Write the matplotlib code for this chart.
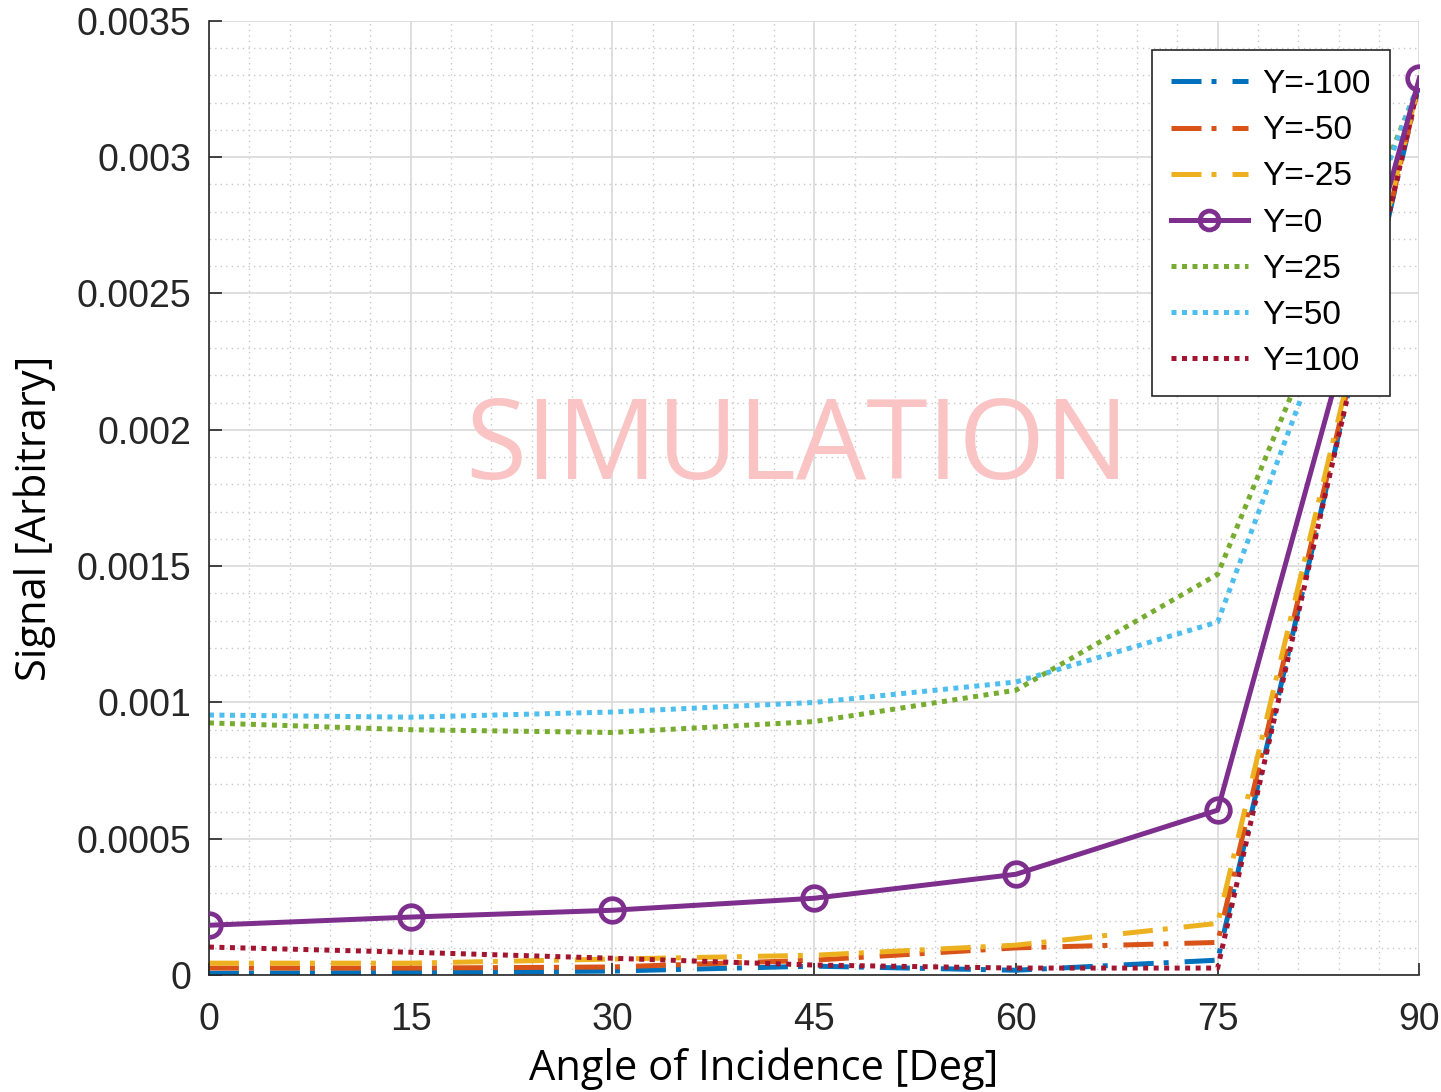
import matplotlib
matplotlib.use("Agg")
import matplotlib.pyplot as plt
from matplotlib.ticker import MultipleLocator

angles = [0, 15, 30, 45, 60, 75, 90]
labels = ["Y=-100", "Y=-50", "Y=-25", "Y=0", "Y=25", "Y=50", "Y=100"]
y_m100 = [0.000007, 0.000010, 0.000015, 0.000033, 0.000018, 0.000055, 0.00327]
y_m50 = [0.000026, 0.000026, 0.000030, 0.000055, 0.000100, 0.000120, 0.00327]
y_m25 = [0.000044, 0.000044, 0.000059, 0.000073, 0.000110, 0.000190, 0.00328]
y_0 = [0.000183, 0.000213, 0.000238, 0.000282, 0.000370, 0.000605, 0.00329]
y_25 = [0.000925, 0.000900, 0.000890, 0.000930, 0.001045, 0.001470, 0.00327]
y_50 = [0.000954, 0.000946, 0.000965, 0.001000, 0.001075, 0.001295, 0.00328]
y_100 = [0.000103, 0.000084, 0.000062, 0.000037, 0.000026, 0.000026, 0.00328]

colors = ["#0072BD", "#D95319", "#EDB120", "#7E2F8E", "#77AC30", "#4DBEEE", "#A2142F"]

fig = plt.figure(figsize=(14.41, 10.92), dpi=100)
ax = fig.add_axes([0.145, 0.107, 0.840, 0.874])

lw = 3.6
dashdot = (0, (6.0, 2.0, 1, 3.2))
dotted = (0, (1, 1.1))
series = [y_m100, y_m50, y_m25, y_0, y_25, y_50, y_100]
for i, (ys, lab) in enumerate(zip(series, labels)):
    if i < 3:
        ax.plot(angles, ys, color=colors[i], lw=lw, linestyle=dashdot, label=lab)
    elif i == 3:
        ax.plot(angles, ys, color=colors[i], lw=lw, linestyle="-", marker="o",
                markersize=17, markerfacecolor="none", markeredgewidth=3.4, label=lab, zorder=5)
    else:
        ax.plot(angles, ys, color=colors[i], lw=lw, linestyle=dotted, label=lab)

ax.set_xlim(0, 90)
ax.set_ylim(0, 0.0035)
ax.xaxis.set_major_locator(MultipleLocator(15))
ax.xaxis.set_minor_locator(MultipleLocator(3))
ax.yaxis.set_minor_locator(MultipleLocator(0.0001))
ax.set_yticks([0, 0.0005, 0.001, 0.0015, 0.002, 0.0025, 0.003, 0.0035])
ax.set_yticklabels(["0", "0.0005", "0.001", "0.0015", "0.002", "0.0025", "0.003", "0.0035"])
ax.grid(which="major", color="#d9d9d9", lw=1.2, linestyle="-")
ax.grid(which="minor", color="#c8c8c8", lw=1.0, linestyle=(0, (1, 3)))
ax.set_axisbelow(True)
ax.spines["top"].set_visible(False)
ax.spines["right"].set_visible(False)
for s in ["left", "bottom"]:
    ax.spines[s].set_color("#262626")
    ax.spines[s].set_linewidth(1.2)
ax.tick_params(which="major", direction="in", length=9, width=1.2, labelsize=27,
               colors="#262626")
ax.tick_params(axis="x", pad=19)
ax.tick_params(axis="y", pad=13)
ax.tick_params(which="minor", length=0)
for t in ax.get_xticklabels() + ax.get_yticklabels():
    t.set_fontfamily("Liberation Sans")

ax.set_xlabel("Angle of Incidence [Deg]", fontsize=30, family="Open Sans", va="center")
ax.set_ylabel("Signal [Arbitrary]", fontsize=30, family="Open Sans", va="center")
ax.xaxis.set_label_coords(0.458, -0.098)
ax.yaxis.set_label_coords(-0.144, 0.479)

ax.text(0.486, 0.550, "SIMULATION", transform=ax.transAxes, fontsize=80,
        family="Open Sans", color="#fbc4c4", ha="center", va="center", zorder=10)

leg = ax.legend(loc="upper right", bbox_to_anchor=(0.976, 0.9696),
                prop={"family": "Liberation Sans", "size": 24},
                handlelength=2.3, handletextpad=0.45, labelspacing=0.455,
                borderpad=0.58, borderaxespad=0.0, fancybox=False, framealpha=1,
                edgecolor="#262626", markerscale=0.8)
leg.get_frame().set_linewidth(1.2)

fig.savefig("out.png", dpi=100)
